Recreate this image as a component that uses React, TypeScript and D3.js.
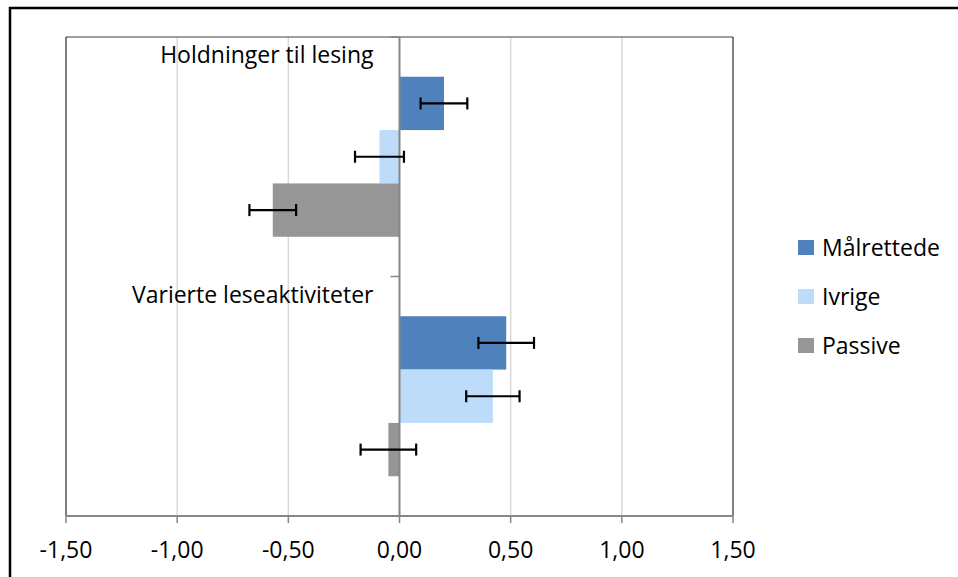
import React from "react";
import * as d3 from "d3";

const categories = ["Holdninger til lesing", "Varierte leseaktiviteter"];
const seriesNames = ["Målrettede", "Ivrige", "Passive"];
const seriesColors = ["#4F81BD", "#BDDCFA", "#969696"];
// values[category][series]
const values = [
  [0.2, -0.09, -0.57],
  [0.48, 0.42, -0.05],
];
// half-width of the error bars
const errors = [
  [0.105, 0.11, 0.105],
  [0.125, 0.12, 0.125],
];
const xTicks = [-1.5, -1.0, -0.5, 0, 0.5, 1.0, 1.5];

const W = 958;
const H = 577;
const FONT = "'Open Sans', sans-serif";
const FS = 23;

export default function App() {
  const plot = { left: 66, right: 733, top: 37, bottom: 516 };

  const x = d3.scaleLinear().domain([-1.5, 1.5]).range([plot.left, plot.right]);
  const y = d3.scaleBand().domain(categories).range([plot.top, plot.bottom]);
  const inner = d3
    .scaleBand()
    .domain(seriesNames)
    .range([0, y.bandwidth()])
    .paddingOuter(0.745);

  const fmt = (v: number) => d3.format(".2f")(v).replace(".", ",").replace("−", "-");
  const x0 = x(0);

  return (
    <svg
      width={W}
      height={H}
      style={{ position: "absolute", left: 0, top: 0, background: "#fff" }}
      fontFamily={FONT}
    >
      {/* outer frame */}
      <path d={`M10,${H + 5}V8H${W + 5}`} fill="none" stroke="#000" strokeWidth={2.5} />

      {/* gridlines */}
      {xTicks
        .filter((t) => t !== 0 && Math.abs(t) !== 1.5)
        .map((t) => (
          <line key={t} x1={x(t)} x2={x(t)} y1={plot.top} y2={plot.bottom} stroke="#D9D9D9" strokeWidth={1.5} />
        ))}

      {/* plot frame */}
      <line x1={plot.left} x2={plot.right} y1={plot.top} y2={plot.top} stroke="#404040" strokeWidth={1} />
      <line x1={plot.left} x2={plot.left} y1={plot.top} y2={plot.bottom} stroke="#000" strokeWidth={1} />
      <line x1={plot.right} x2={plot.right} y1={plot.top} y2={plot.bottom} stroke="#000" strokeWidth={1} />

      {/* bars */}
      {categories.map((c, ci) =>
        seriesNames.map((s, si) => {
          const v = values[ci][si];
          const by = (y(c) as number) + (inner(s) as number);
          return (
            <rect
              key={c + s}
              x={Math.min(x(v), x0)}
              y={by}
              width={Math.abs(x(v) - x0)}
              height={inner.bandwidth()}
              fill={seriesColors[si]}
            />
          );
        })
      )}

      {/* zero axis */}
      <line x1={x0} x2={x0} y1={plot.top} y2={plot.bottom} stroke="#868686" strokeWidth={2} />
      {[plot.top, ...categories.map((c) => (y(c) as number) + y.bandwidth())].map((ty, i) => (
        <line key={i} x1={x0 - 9} x2={x0} y1={ty} y2={ty} stroke="#868686" strokeWidth={1.5} />
      ))}

      {/* error bars */}
      {categories.map((c, ci) =>
        seriesNames.map((s, si) => {
          const v = values[ci][si];
          const e = errors[ci][si];
          const cy = (y(c) as number) + (inner(s) as number) + inner.bandwidth() / 2;
          const xa = x(v - e);
          const xb = x(v + e);
          return (
            <g key={"e" + c + s} stroke="#000" strokeWidth={2.2}>
              <line x1={xa} x2={xb} y1={cy} y2={cy} />
              <line x1={xa} x2={xa} y1={cy - 6} y2={cy + 6} />
              <line x1={xb} x2={xb} y1={cy - 6} y2={cy + 6} />
            </g>
          );
        })
      )}

      {/* category labels */}
      {categories.map((c) => (
        <text key={c} x={x0 - 26} y={(y(c) as number) + 26} textAnchor="end" fontSize={FS} fill="#000">
          {c}
        </text>
      ))}

      {/* bottom axis */}
      <line x1={plot.left} x2={plot.right} y1={plot.bottom} y2={plot.bottom} stroke="#868686" strokeWidth={2} />
      {xTicks.map((t) => (
        <g key={t}>
          <line x1={x(t)} x2={x(t)} y1={plot.bottom} y2={plot.bottom + 7} stroke="#868686" strokeWidth={1.5} />
          <text x={x(t)} y={558} textAnchor="middle" fontSize={FS} fill="#000">
            {fmt(t)}
          </text>
        </g>
      ))}

      {/* legend */}
      {seriesNames.map((s, i) => (
        <g key={s} transform={`translate(798,${240 + i * 49})`}>
          <rect width={16} height={15} fill={seriesColors[i]} />
          <text x={24} y={15.5} fontSize={FS} fill="#000">
            {s}
          </text>
        </g>
      ))}
    </svg>
  );
}
